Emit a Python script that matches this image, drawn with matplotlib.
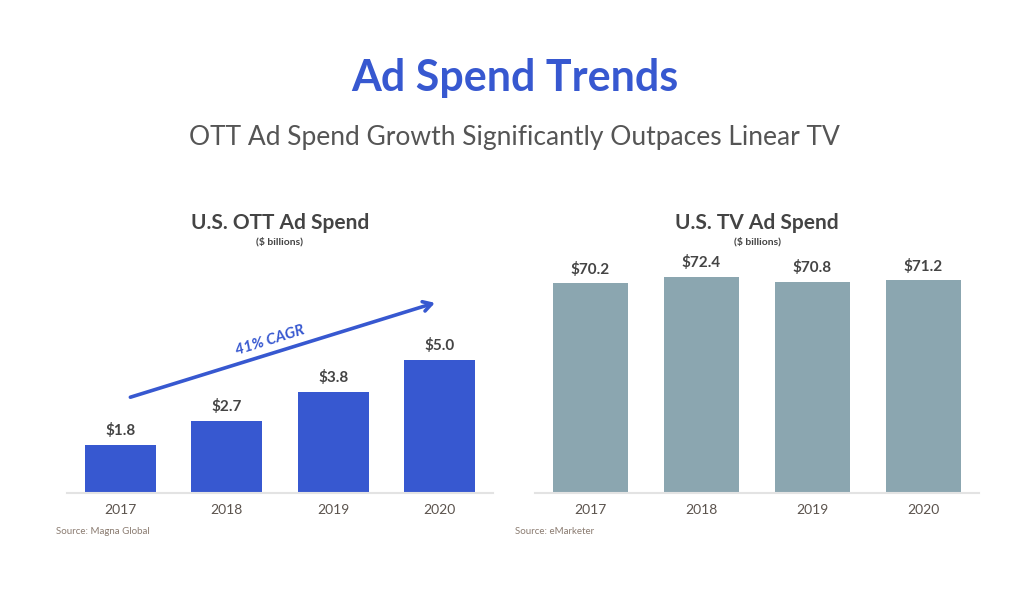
import matplotlib.pyplot as plt

# chart data
years = ["2017", "2018", "2019", "2020"]
ott_spend = [1.8, 2.7, 3.8, 5.0]
tv_spend = [70.2, 72.4, 70.8, 71.2]
cagr_label = "41% CAGR"

BLUE = "#3758d0"
GREY_BAR = "#8ba6b0"
DARK = "#444444"
TICK = "#5b534d"

plt.rcParams['font.family'] = ['Lato', 'DejaVu Sans']

fig = plt.figure(figsize=(10.29, 5.92), dpi=100)
fig.patch.set_facecolor("white")

fig.text(0.5, 1 - 78 / 592, "Ad Spend Trends", ha="center", va="center",
         fontsize=31, fontweight="bold", color=BLUE)
fig.text(0.5, 1 - 138 / 592, "OTT Ad Spend Growth Significantly Outpaces Linear TV",
         ha="center", va="center", fontsize=19, color="#555555")


def panel(rect, values, color, ymax, fmt):
    ax = fig.add_axes(rect)
    x = range(len(values))
    ax.bar(x, values, width=0.67, color=color, zorder=2)
    ax.set_xlim(-0.5, len(values) - 0.5)
    ax.set_ylim(0, ymax)
    for i, v in zip(x, values):
        ax.annotate(fmt.format(v), (i, v), xytext=(0, 5), textcoords="offset points",
                    ha="center", va="bottom", fontsize=11, fontweight="bold", color=DARK)
    ax.set_xticks(list(x))
    ax.set_xticklabels(years, fontsize=10, color=TICK)
    ax.tick_params(axis="x", length=0, pad=8)
    ax.set_yticks([])
    for s in ["top", "right", "left"]:
        ax.spines[s].set_visible(False)
    ax.spines["bottom"].set_color("#e3e3e3")
    ax.spines["bottom"].set_linewidth(1.5)
    return ax


H = 592
W = 1029
bottom = (H - 493) / H
height = 243 / H

ax1 = panel([67 / W, bottom, 426 / W, height], ott_spend, BLUE, 243 / 26.6, "${:.1f}")
ax2 = panel([535 / W, bottom, 444 / W, height], tv_spend, GREY_BAR, 243 / 2.985, "${:.1f}")

# panel titles
for cx, title in [(280, "U.S. OTT Ad Spend"), (757, "U.S. TV Ad Spend")]:
    fig.text(cx / W, 1 - 223 / H, title, ha="center", va="center",
             fontsize=15, fontweight="bold", color=DARK)
    fig.text(cx / W, 1 - 242 / H, "($ billions)", ha="center", va="center",
             fontsize=7.5, fontweight="bold", color=DARK)

# growth arrow
ax1.annotate("", xy=(2.98, 7.18), xytext=(0.07, 3.57),
             arrowprops=dict(arrowstyle="->,head_length=0.6,head_width=0.35",
                             color=BLUE, lw=2.6), annotation_clip=False)
ax1.text(1.41, 5.75, cagr_label, rotation=17.3, ha="center", va="center",
         fontsize=11, fontweight="bold", fontstyle="italic", color=BLUE)

# sources
fig.text(56 / W, 1 - 532 / H, "Source: Magna Global", ha="left", va="center",
         fontsize=7, color="#8a7b70")
fig.text(515 / W, 1 - 532 / H, "Source: eMarketer", ha="left", va="center",
         fontsize=7, color="#8a7b70")

fig.savefig("out.png", dpi=100, facecolor="white")
